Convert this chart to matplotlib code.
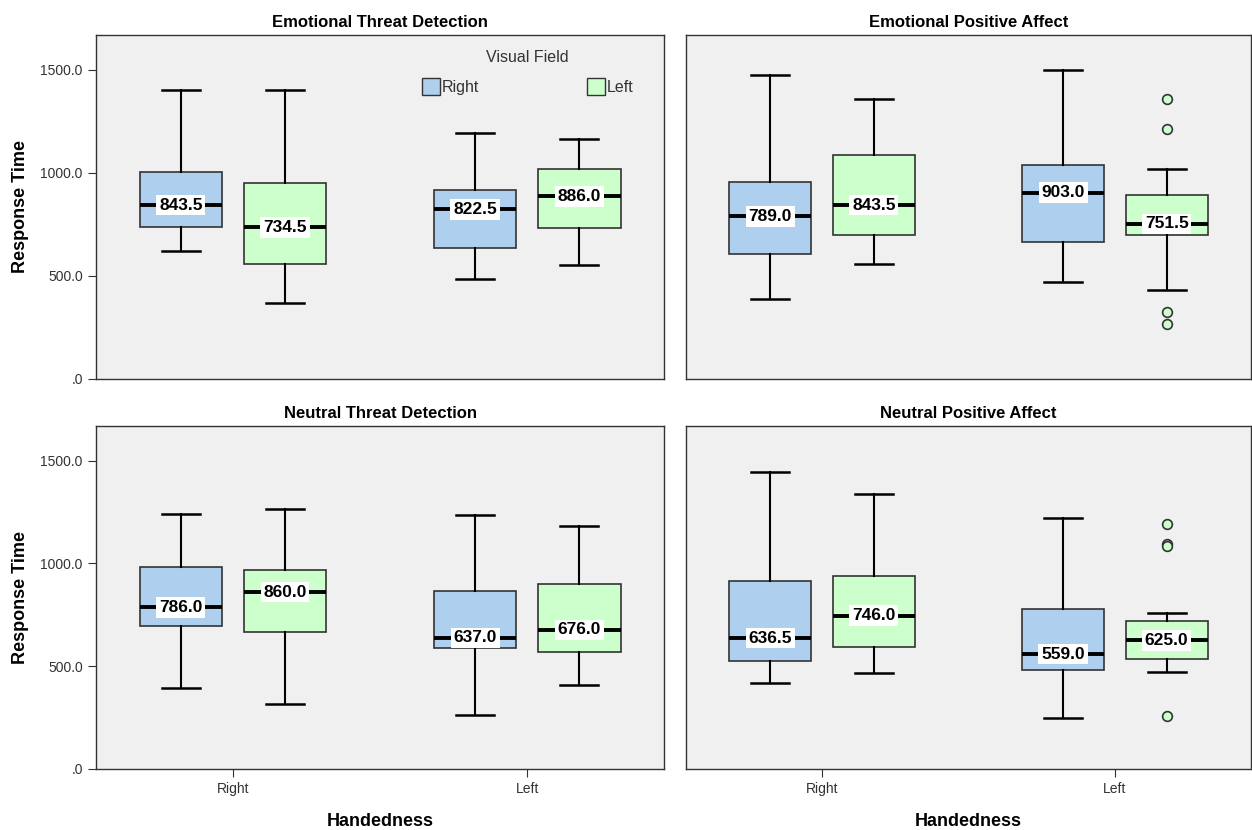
import matplotlib.pyplot as plt
import numpy as np

plt.rcParams['font.family'] = ['Liberation Sans', 'DejaVu Sans']

handedness = ["Right", "Left"]
visual_field = ["Right", "Left"]
titles = ["Emotional Threat Detection", "Emotional Positive Affect",
          "Neutral Threat Detection", "Neutral Positive Affect"]

# five-number summaries: [low whisker, Q1, median, Q3, high whisker]
# order per panel: RH/RVF, RH/LVF, LH/RVF, LH/LVF
emo_threat = [[621, 738, 843.5, 1005, 1403],
              [369, 558, 734.5, 951, 1403],
              [485, 636, 822.5, 917, 1194],
              [553, 733, 886.0, 1019, 1165]]
emo_positive = [[387, 605, 789.0, 955, 1472],
                [557, 696, 843.5, 1084, 1356],
                [469, 665, 903.0, 1039, 1497],
                [432, 697, 751.5, 890, 1019]]
neu_threat = [[392, 693, 786.0, 984, 1238],
              [316, 668, 860.0, 969, 1262],
              [262, 587, 637.0, 867, 1233],
              [408, 569, 676.0, 901, 1183]]
neu_positive = [[416, 526, 636.5, 913, 1443],
                [467, 592, 746.0, 940, 1336],
                [249, 481, 559.0, 780, 1222],
                [472, 537, 625.0, 720, 757]]

# outliers (panel index, box index) -> values
outliers = {(1, 3): [1358, 1214, 324, 267],
            (3, 3): [1189, 1092, 1085, 259]}

panels = [emo_threat, emo_positive, neu_threat, neu_positive]

blue = "#AECFEE"
green = "#CCFFCC"
colors = [blue, green, blue, green]
group_x = np.array([1.0, 2.0])
offset = 0.177
positions = [group_x[0] - offset, group_x[0] + offset,
             group_x[1] - offset, group_x[1] + offset]

fig = plt.figure(figsize=(12.52, 8.3), dpi=100)
rects = [[0.0767, 0.5434, 0.4537, 0.4145], [0.5479, 0.5434, 0.4513, 0.4145],
         [0.0767, 0.0735, 0.4537, 0.4133], [0.5479, 0.0735, 0.4513, 0.4133]]

for i, (rect, data) in enumerate(zip(rects, panels)):
    ax = fig.add_axes(rect)
    ax.set_facecolor("#F0F0F0")
    stats = []
    for j, (lo, q1, med, q3, hi) in enumerate(data):
        stats.append(dict(whislo=lo, q1=q1, med=med, q3=q3, whishi=hi,
                          fliers=outliers.get((i, j), [])))
    bp = ax.bxp(stats, positions=positions, widths=0.28, capwidths=0.13,
                patch_artist=True, manage_ticks=False,
                boxprops=dict(edgecolor="#333333", linewidth=1.2),
                medianprops=dict(color="black", linewidth=2.8),
                whiskerprops=dict(color="black", linewidth=1.5),
                capprops=dict(color="black", linewidth=1.8),
                flierprops=dict(marker="o", markerfacecolor=green,
                                markeredgecolor="#333333", markersize=7,
                                markeredgewidth=1.2))
    for patch, c in zip(bp["boxes"], colors):
        patch.set_facecolor(c)
    for x, row in zip(positions, data):
        ax.text(x, row[2], f"{row[2]:.1f}", ha="center", va="center",
                fontsize=12.5, fontweight="bold", color="black",
                family=['Liberation Sans Narrow', 'DejaVu Sans Condensed', 'Liberation Sans'],
                bbox=dict(facecolor="white", edgecolor="none", pad=2.0),
                zorder=5)

    ax.set_xlim(0.535, 2.465)
    ax.set_ylim(0, 1668)
    ax.set_title(titles[i], fontsize=12, fontweight="bold", pad=6)
    for s in ax.spines.values():
        s.set_color("#333333")
        s.set_linewidth(1.0)
    ax.tick_params(direction="out", length=6, color="#333333",
                   labelsize=10, labelcolor="#333333")
    ax.set_yticks([0, 500, 1000, 1500])
    if i % 2 == 0:
        ax.set_yticklabels([".0", "500.0", "1000.0", "1500.0"])
        ax.set_ylabel("Response Time", fontsize=13, fontweight="bold", labelpad=8)
    else:
        ax.tick_params(axis="y", left=False, labelleft=False)
    ax.set_xticks(group_x)
    if i >= 2:
        ax.set_xticklabels(handedness)
        ax.set_xlabel("Handedness", fontsize=13, fontweight="bold", labelpad=12)
    else:
        ax.tick_params(axis="x", bottom=False, labelbottom=False)

    if i == 0:
        ax.text(0.76, 0.935, "Visual Field", transform=ax.transAxes,
                ha="center", va="center", fontsize=11.5, color="#333333")
        handles = [plt.Rectangle((0, 0), 1, 1, facecolor=c, edgecolor="#333333")
                   for c in (blue, green)]
        leg = ax.legend(handles, visual_field, ncol=2,
                        frameon=False, loc="center",
                        bbox_to_anchor=(0.76, 0.85), columnspacing=6.8,
                        handlelength=1.1, handleheight=1.3, handletextpad=0.1,
                        fontsize=11.5)
        for t in leg.get_texts():
            t.set_color("#333333")

fig.savefig("out.png", dpi=100)
